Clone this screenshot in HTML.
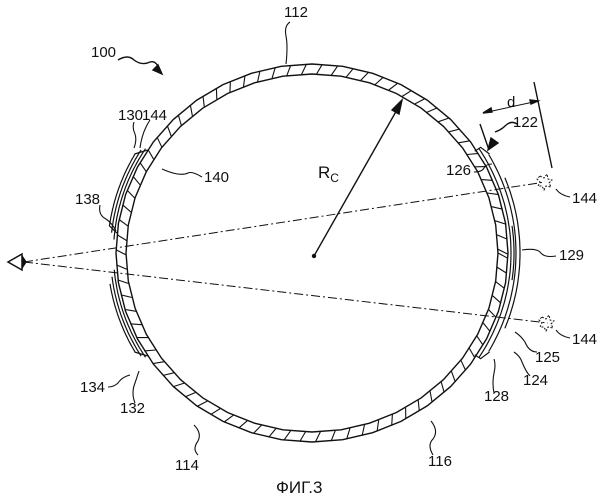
<!DOCTYPE html>
<html><head><style>body{margin:0;background:#fff}svg{display:block;position:absolute;left:0;top:0}text{font-family:"Liberation Sans",sans-serif;font-size:15px;fill:#111;stroke:none}</style></head>
<body>
<svg id="g" width="602" height="500" viewBox="0 0 602 500" xmlns="http://www.w3.org/2000/svg" fill="none" stroke="#111" stroke-width="1.4">
<!-- sight lines -->
<path d="M24 262 L545 182 M24 262 L548 323" stroke-width="1" stroke-dasharray="9 3 2 3"/>
<path d="M8 262 L22 254 L22 270 Z" stroke-width="1.5"/>
<path d="M22 256 L26 262 L22 268" fill="#111"/>
<!-- stars -->
<path d="M540 176 l4 2 3-4 1 5 4 1-3 3 2 4-5-1-2 4-2-4-4 0 2-4-3-3z" stroke-width="1" stroke-dasharray="2 1.5"/>
<path d="M542 317 l4 2 3-4 1 5 4 1-3 3 2 4-5-1-2 4-2-4-4 0 2-4-3-3z" stroke-width="1" stroke-dasharray="2 1.5"/>
<!-- Rc arrow -->
<path d="M314 256 L398 108"/>
<path d="M402 100 L392 110 L399 114 Z" fill="#111"/>
<circle cx="314" cy="256" r="1.5" fill="#111"/>
<!-- d dimension -->
<path d="M480 124 L489 150 M534 82 L552 168"/>
<path d="M483 113 L538 101" stroke-width="1"/>
<path d="M483 113 l8 -5 l1 4 z M538 101 l-8 -1 l1 4z" fill="#111"/>
<!-- 122 arrow -->
<path d="M517 124 q-6 -4 -12 2 q-4 4 -10 6"/>
<path d="M488 150 l3 -12 l7 5 z" fill="#111"/>
<!-- 100 arrow -->
<path d="M118 60 q10 -6 16 0 q8 6 16 2 q6 -2 10 8"/>
<path d="M162 74 l-9 -4 l5 -5 z" fill="#111"/>
<g stroke-width="1.1">
<path d="M290 22 q-6 4 -4 14 q2 10 0 28"/>
<path d="M150 120 q-8 12 -10 28"/>
<path d="M134 122 q-2 6 1 12 q2 6 -1 14"/>
<path d="M202 177 q-10 -6 -14 -4 q-8 4 -26 -4"/>
<path d="M100 205 q-2 10 6 14 q6 4 10 12"/>
<path d="M108 387 q6 0 10 -4 q4 -6 12 -8"/>
<path d="M135 403 q-4 -10 0 -20 q2 -6 4 -12"/>
<path d="M198 455 q-6 -6 0 -14 q4 -8 -4 -16"/>
<path d="M433 455 q-6 -10 0 -16 q6 -8 -2 -18"/>
<path d="M474 172 q8 0 10 -4 q2 -4 8 -4"/>
<path d="M570 197 q-10 -2 -14 -8"/>
<path d="M556 256 q-12 2 -16 -4 q-4 -4 -18 -2"/>
<path d="M570 338 q-10 -2 -14 -8"/>
<path d="M537 352 q-8 0 -12 -10 q-4 -6 -10 -10"/>
<path d="M530 376 q-4 -4 -8 -14 q-2 -6 -8 -10"/>
<path d="M494 393 q-2 -10 0 -20 q2 -8 0 -14"/>
</g>
</svg>
<svg width="602" height="500">
<text x="91" y="57">100</text>
<text x="284" y="17">112</text>
<text x="142" y="120">144</text>
<text x="118" y="120">130</text>
<text x="204" y="182">140</text>
<text x="75" y="204">138</text>
<text x="80" y="392">134</text>
<text x="120" y="413">132</text>
<text x="175" y="470">114</text>
<text x="428" y="466">116</text>
<text x="318" y="178" style="font-size:17px">R<tspan style="font-size:12px" dy="4">C</tspan></text>
<text x="507" y="107">d</text>
<text x="513" y="127">122</text>
<text x="446" y="175">126</text>
<text x="572" y="203">144</text>
<text x="559" y="260">129</text>
<text x="572" y="344">144</text>
<text x="535" y="362">125</text>
<text x="523" y="385">124</text>
<text x="484" y="401">128</text>
<text x="276" y="493" style="font-size:17px">ФИГ.3</text>
</svg>
<script>
(function(){
var g=document.getElementById('g'),NS='http://www.w3.org/2000/svg';
var cx=312,cy=253,rx=196,ry=189;
function P(t,d){var r=t*Math.PI/180;return [(cx+(rx+d)*Math.cos(r)).toFixed(1),(cy+(ry+d)*Math.sin(r)).toFixed(1)];}
function add(d,w){var p=document.createElementNS(NS,'path');p.setAttribute('d',d);if(w)p.setAttribute('stroke-width',w);g.appendChild(p);}
function arc(t1,t2,d){var s='M'+P(t1,d).join(' ');var n=40;for(var i=1;i<=n;i++){s+=' L'+P(t1+(t2-t1)*i/n,d).join(' ');}return s;}
add(arc(0,360,0));add(arc(0,360,-10));
var h='';for(var a=0;a<360;a+=4.6){var p1=P(a,-10),p2=P(a+1.6,0);h+='M'+p1.join(' ')+' L'+p2.join(' ');}add(h,1.1);
// left pads
add(arc(213,184,2.5),1.2);add(arc(212,186,5.5),1.2);add(arc(210,188,8.5),1.2);
var a1=P(213,0),a2=P(210,9);add('M'+a1.join(' ')+' L'+a2.join(' '),1.2);
var b1=P(186,0),b2=P(188,9);add('M'+b1.join(' ')+' L'+b2.join(' '),1.2);
add(arc(175,147,2.5),1.2);add(arc(173,148,5.5),1.2);add(arc(171,150,8.5),1.2);
var c1=P(147,0),c2=P(150,9);add('M'+c1.join(' ')+' L'+c2.join(' '),1.2);
// right pad
add(arc(-33,33,3),1.2);add(arc(-30,30,8),1.2);add(arc(-22,22,12),1.2);
add('M'+P(-33,-2).join(' ')+' L'+P(-33,5).join(' ')+' L'+P(-30,9).join(' '),1.2);
add('M'+P(33,-2).join(' ')+' L'+P(33,5).join(' ')+' L'+P(30,9).join(' '),1.2);
add(arc(-8,8,6),1.2);
})();
</script>
</body></html>
